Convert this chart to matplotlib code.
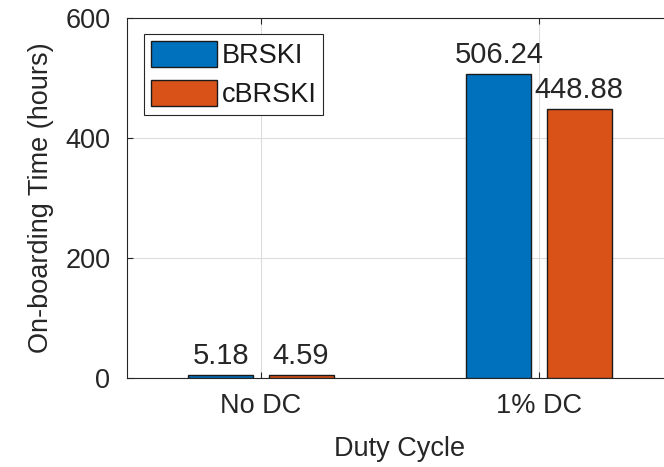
import matplotlib
matplotlib.use("Agg")
import matplotlib.pyplot as plt
import numpy as np

# Data
categories = ["No DC", "1% DC"]
series_names = ["BRSKI", "cBRSKI"]
brski_hours = [5.18, 506.24]
cbrski_hours = [4.59, 448.88]
y_ticks = [0, 200, 400, 600]

plt.rcParams["font.family"] = ["Liberation Sans", "DejaVu Sans"]

W, H, DPI = 664, 467, 100
fig = plt.figure(figsize=(W / DPI, H / DPI), dpi=DPI)

# axes rectangle in pixels (extends past the right edge of the canvas)
ax_left, ax_top, ax_bottom, ax_right = 127, 18, 378, 673
ax = fig.add_axes([ax_left / W, (H - ax_bottom) / H,
                   (ax_right - ax_left) / W, (ax_bottom - ax_top) / H])

blue = "#0072BD"
orange = "#D95319"
edge = "#1a1a1a"

x = np.arange(1, len(categories) + 1)
bar_w = 0.234
offset = 0.144

b1 = ax.bar(x - offset, brski_hours, bar_w, color=blue, edgecolor=edge,
            linewidth=1.0, label=series_names[0], zorder=3)
b2 = ax.bar(x + offset, cbrski_hours, bar_w, color=orange, edgecolor=edge,
            linewidth=1.0, label=series_names[1], zorder=3)

for bars, vals in ((b1, brski_hours), (b2, cbrski_hours)):
    for rect, v in zip(bars, vals):
        ax.annotate(f"{v:.2f}", (rect.get_x() + rect.get_width() / 2, v),
                    xytext=(0, 3.5), textcoords="offset points",
                    ha="center", va="bottom", fontsize=21, color="#262626",
                    zorder=4)

ax.set_xlim(0.518, 2.482)
ax.set_ylim(0, 600)
ax.set_xticks(x)
ax.set_xticklabels(categories)
ax.set_yticks(y_ticks)

spine_c = "#262626"
for s in ("left", "bottom", "top", "right"):
    ax.spines[s].set_color(spine_c)
    ax.spines[s].set_linewidth(0.8)

ax.tick_params(axis="both", direction="in", length=4, width=0.8,
               color=spine_c, labelcolor="#262626", labelsize=19.5,
               top=True, right=True)
ax.tick_params(axis="y", pad=12)
ax.tick_params(axis="x", pad=11)

ax.grid(True, color="#dcdcdc", linewidth=0.8, zorder=0)
ax.set_axisbelow(True)

ax.set_xlabel("Duty Cycle", fontsize=19.5, color="#262626", labelpad=12)
ax.set_ylabel("On-boarding Time (hours)", fontsize=19.5, color="#262626",
              labelpad=8)

fs_leg = 19.5
em = fs_leg * DPI / 72
leg = ax.legend(loc="upper left",
                bbox_to_anchor=(17 / (ax_right - ax_left),
                                1 - 16 / (ax_bottom - ax_top)),
                borderaxespad=0, fontsize=fs_leg, frameon=True,
                fancybox=False, framealpha=1, edgecolor=spine_c,
                handlelength=66 / em, handleheight=30 / em,
                handletextpad=5 / em, borderpad=0.25, labelspacing=0.4)
leg.get_frame().set_linewidth(0.8)
for t in leg.get_texts():
    t.set_color("#1a1a1a")

fig.savefig("out.png", dpi=DPI)
